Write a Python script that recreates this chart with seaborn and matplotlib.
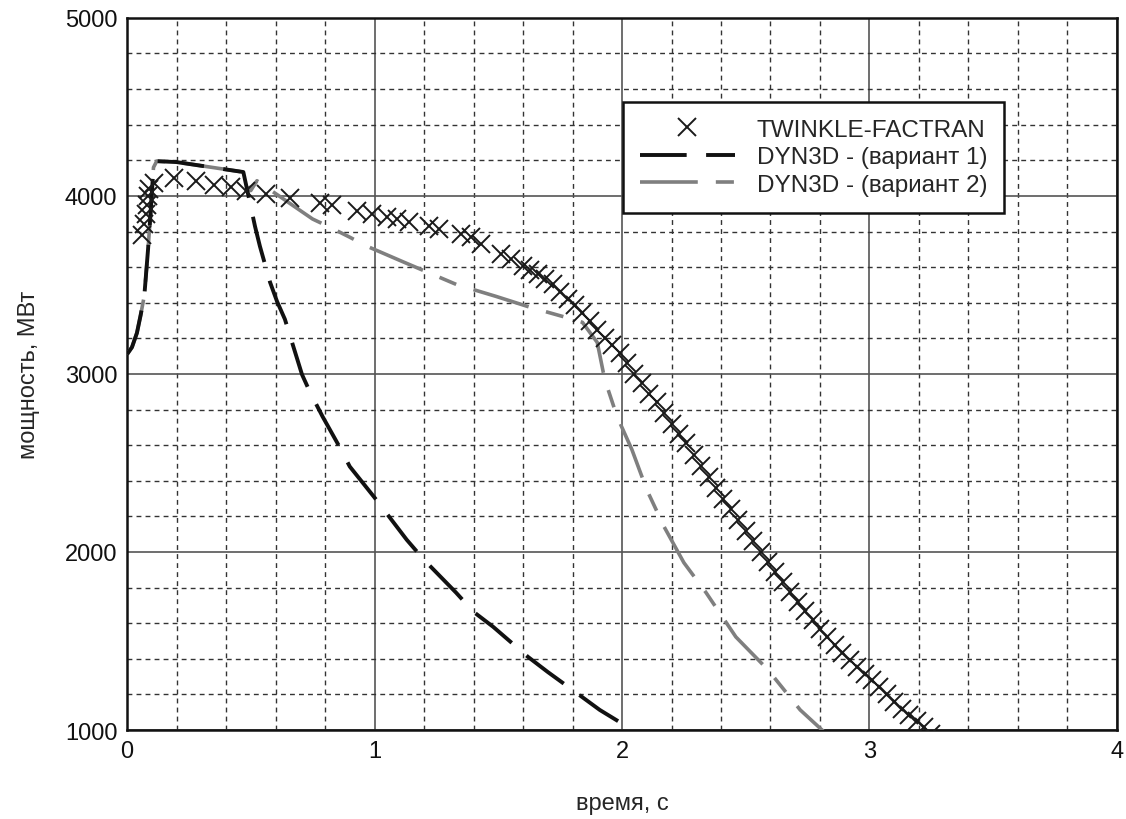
import matplotlib
matplotlib.use("Agg")
import matplotlib.pyplot as plt
from matplotlib.ticker import MultipleLocator
import seaborn as sns

# ===== DATA =====
# TWINKLE-FACTRAN, markers
t_twinkle = [0.06, 0.07, 0.075, 0.08, 0.085, 0.09, 0.11, 0.19, 0.28, 0.35, 0.42, 0.48,
             0.56, 0.66, 0.78, 0.83, 0.93, 0.99, 1.05, 1.09, 1.14, 1.22, 1.26, 1.35,
             1.39, 1.43, 1.51, 1.55, 1.60, 1.63, 1.66, 1.69, 1.72, 1.75, 1.78, 1.81,
             1.84, 1.87, 1.90, 1.93, 1.96, 1.99, 2.02, 2.05, 2.08, 2.11, 2.14, 2.17,
             2.20, 2.23, 2.26, 2.29, 2.32, 2.35, 2.38, 2.41, 2.44, 2.47, 2.50, 2.53,
             2.56, 2.59, 2.62, 2.65, 2.68, 2.71, 2.74, 2.77, 2.80, 2.83, 2.86, 2.89,
             2.92, 2.95, 2.98, 3.01, 3.04, 3.07, 3.10, 3.13, 3.16, 3.19, 3.22, 3.25]
p_twinkle = [3780, 3840, 3900, 3950, 4000, 4040, 4070, 4100, 4083, 4062, 4050, 4030,
             4010, 3990, 3960, 3950, 3914, 3897, 3880, 3870, 3852, 3830, 3813, 3785,
             3768, 3729, 3672, 3644, 3605, 3582, 3560, 3535, 3505, 3460, 3420, 3385,
             3340, 3295, 3245, 3200, 3160, 3115, 3060, 3000, 2950, 2890, 2840, 2780,
             2720, 2665, 2610, 2545, 2485, 2420, 2360, 2300, 2240, 2180, 2120, 2060,
             2000, 1945, 1885, 1830, 1775, 1720, 1670, 1620, 1570, 1525, 1480, 1435,
             1395, 1355, 1315, 1280, 1240, 1200, 1160, 1120, 1085, 1050, 1015, 980]

# DYN3D variant 1 (black dashed)
t_var1 = [0.0, 0.02, 0.04, 0.055, 0.07, 0.085, 0.095, 0.107, 0.12, 0.2, 0.47,
          0.517, 0.537, 0.578, 0.606, 0.638, 0.707, 0.74, 0.79, 0.86, 0.9, 1.0,
          1.13, 1.2, 1.33, 1.4, 1.48, 1.62, 1.7, 1.8, 1.91, 1.99, 2.05]
p_var1 = [3110, 3150, 3230, 3330, 3440, 3700, 3900, 4160, 4195, 4190, 4134,
          3830, 3717, 3515, 3408, 3307, 2997, 2896, 2761, 2587, 2480, 2306,
          2069, 1956, 1771, 1664, 1579, 1411, 1326, 1225, 1113, 1045, 985]

# DYN3D variant 2 (grey dash-dot)
t_var2 = [0.0, 0.02, 0.04, 0.055, 0.07, 0.085, 0.095, 0.107, 0.12, 0.2, 0.47,
          0.5, 0.525, 0.75, 0.82, 0.9, 0.97, 1.12, 1.33, 1.49, 1.63, 1.76, 1.84,
          1.9, 1.93, 1.98, 2.04, 2.1, 2.17, 2.25, 2.34, 2.46, 2.59, 2.72, 2.82]
p_var2 = [3110, 3150, 3230, 3330, 3440, 3700, 3900, 4160, 4195, 4190, 4134,
          4030, 4085, 3870, 3824, 3768, 3717, 3627, 3503, 3436, 3374, 3323, 3290,
          3177, 2970, 2761, 2575, 2350, 2142, 1940, 1771, 1523, 1338, 1113, 985]

x_ticks = [0, 1, 2, 3, 4]
y_ticks = [1000, 2000, 3000, 4000, 5000]

labels = ["TWINKLE-FACTRAN", "DYN3D - (вариант 1)", "DYN3D - (вариант 2)"]

# ===== PLOT =====
sns.set_style("white")
plt.rcParams['font.family'] = ['Liberation Sans', 'DejaVu Sans']

fig = plt.figure(figsize=(11.26, 8.2), dpi=100)
ax = fig.add_axes([0.1128, 0.1085, 0.8792, 0.8685])

sns.lineplot(x=t_twinkle, y=p_twinkle, ax=ax, sort=False, estimator=None,
             color='#1a1a1a', linestyle='', marker='x', markersize=13,
             markeredgewidth=1.4, markeredgecolor='#1a1a1a', markerfacecolor='#1a1a1a',
             label=labels[0], zorder=4)
sns.lineplot(x=t_var2, y=p_var2, ax=ax, sort=False, estimator=None,
             color='#7f7f7f', linewidth=2.6, linestyle=(0, (16, 5, 5, 5)),
             label=labels[2], zorder=3)
sns.lineplot(x=t_var1, y=p_var1, ax=ax, sort=False, estimator=None,
             color='#111111', linewidth=2.8, linestyle=(0, (12, 5)),
             label=labels[1], zorder=3)

ax.set_xlim(0, 4)
ax.set_ylim(1000, 5000)
ax.set_xticks(x_ticks)
ax.set_yticks(y_ticks)
ax.xaxis.set_minor_locator(MultipleLocator(0.2))
ax.yaxis.set_minor_locator(MultipleLocator(200))

ax.grid(True, which='major', color='#555555', linestyle='-', linewidth=1.2)
ax.grid(True, which='minor', color='#333333', linestyle=(0, (3.5, 3)), linewidth=1.0)
ax.set_axisbelow(True)

ax.tick_params(which='both', direction='in', labelsize=17, colors='#111111')
ax.tick_params(which='major', length=0, pad=7)
ax.tick_params(which='minor', length=4, width=1.2)
for s in ax.spines.values():
    s.set_color('#111111')
    s.set_linewidth(1.8)

ax.set_xlabel("время, с", fontsize=17, labelpad=22)
ax.set_ylabel("мощность, МВт", fontsize=17, labelpad=18)

# legend: keep the reference order
handles, lbls = ax.get_legend_handles_labels()
order = [lbls.index(l) for l in labels]
leg = ax.legend([handles[i] for i in order], [lbls[i] for i in order],
                loc='upper left', bbox_to_anchor=(0.501, 0.882), borderaxespad=0,
                fontsize=17.5, frameon=True, fancybox=False, framealpha=1,
                edgecolor='#111111', handlelength=3.9, handletextpad=0.9,
                labelspacing=0.22, borderpad=0.7)
leg.get_frame().set_linewidth(1.8)

plt.savefig("out.png", dpi=100)
plt.close()
